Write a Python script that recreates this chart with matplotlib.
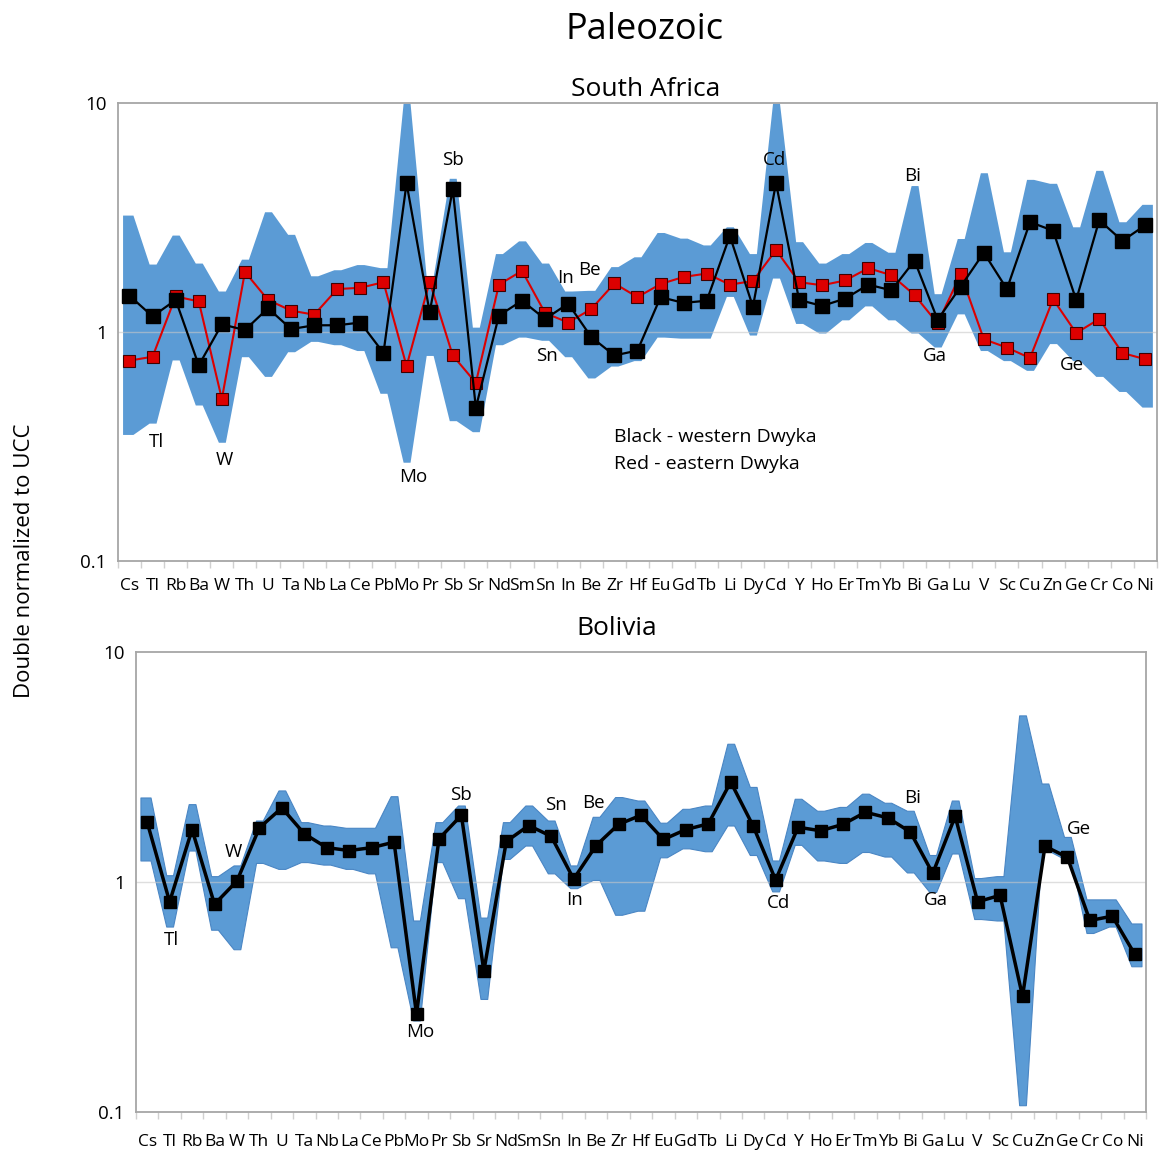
import numpy as np
import matplotlib
matplotlib.use("Agg")
import matplotlib.pyplot as plt
from matplotlib.ticker import FixedLocator, FixedFormatter, NullFormatter

plt.rcParams['font.family'] = ['Open Sans', 'DejaVu Sans']

elements = ["Cs", "Tl", "Rb", "Ba", "W", "Th", "U", "Ta", "Nb", "La", "Ce", "Pb",
            "Mo", "Pr", "Sb", "Sr", "Nd", "Sm", "Sn", "In", "Be", "Zr", "Hf", "Eu",
            "Gd", "Tb", "Li", "Dy", "Cd", "Y", "Ho", "Er", "Tm", "Yb", "Bi", "Ga",
            "Lu", "V", "Sc", "Cu", "Zn", "Ge", "Cr", "Co", "Ni"]

# South Africa - western Dwyka (black)
sa_west = [1.44, 1.17, 1.38, 0.715, 1.08, 1.02, 1.27, 1.03, 1.07, 1.07, 1.10, 0.81,
           4.46, 1.22, 4.20, 0.467, 1.18, 1.37, 1.14, 1.33, 0.95, 0.79, 0.83, 1.42,
           1.34, 1.37, 2.63, 1.29, 4.47, 1.38, 1.30, 1.40, 1.61, 1.52, 2.05, 1.13,
           1.58, 2.22, 1.54, 3.02, 2.77, 1.38, 3.08, 2.50, 2.93]
# South Africa - eastern Dwyka (red)
sa_east = [0.75, 0.78, 1.43, 1.36, 0.51, 1.83, 1.38, 1.24, 1.19, 1.54, 1.56, 1.65,
           0.71, 1.66, 0.79, 0.60, 1.61, 1.85, 1.21, 1.10, 1.26, 1.63, 1.42, 1.62,
           1.74, 1.80, 1.61, 1.67, 2.28, 1.65, 1.60, 1.68, 1.90, 1.77, 1.45, 1.09,
           1.79, 0.93, 0.855, 0.77, 1.39, 0.99, 1.14, 0.81, 0.76]
# South Africa range of all samples
sa_max = [3.24, 1.98, 2.65, 2.0, 1.51, 2.08, 3.35, 2.67, 1.76, 1.87, 1.97, 1.91,
          10.0, 1.74, 4.69, 1.05, 2.2, 2.5, 2.0, 1.51, 1.52, 1.93, 2.13, 2.72,
          2.57, 2.40, 2.88, 2.2, 10.0, 2.48, 2.0, 2.2, 2.46, 2.23, 4.36, 1.47,
          2.56, 4.96, 2.24, 4.64, 4.46, 2.88, 5.08, 3.03, 3.61]
sa_min = [0.357, 0.40, 0.755, 0.48, 0.33, 0.78, 0.64, 0.82, 0.91, 0.88, 0.83, 0.54,
          0.27, 0.79, 0.41, 0.367, 0.88, 0.95, 0.92, 0.78, 0.63, 0.71, 0.75, 0.95,
          0.94, 0.94, 1.43, 0.97, 1.72, 1.09, 0.99, 1.13, 1.30, 1.13, 0.99, 0.86,
          1.2, 0.83, 0.75, 0.68, 0.89, 0.75, 0.64, 0.55, 0.47]

# Bolivia average and range
bo_mean = [1.82, 0.82, 1.69, 0.80, 1.01, 1.72, 2.10, 1.62, 1.41, 1.37, 1.41, 1.49,
           0.266, 1.54, 1.95, 0.41, 1.50, 1.76, 1.58, 1.03, 1.44, 1.78, 1.95, 1.53,
           1.69, 1.79, 2.72, 1.75, 1.02, 1.73, 1.67, 1.78, 2.01, 1.90, 1.65, 1.09,
           1.93, 0.82, 0.875, 0.318, 1.43, 1.28, 0.68, 0.71, 0.485]
bo_max = [2.33, 1.07, 2.18, 1.06, 1.18, 1.85, 2.50, 1.82, 1.76, 1.72, 1.72, 2.36,
          0.68, 1.82, 2.15, 0.70, 1.82, 2.15, 1.85, 1.18, 1.92, 2.34, 2.26, 1.81,
          2.08, 2.15, 3.99, 2.59, 1.24, 2.30, 2.04, 2.12, 2.42, 2.21, 2.04, 1.31,
          2.26, 1.04, 1.06, 5.3, 2.68, 1.57, 0.84, 0.84, 0.66]
bo_min = [1.24, 0.64, 1.37, 0.62, 0.51, 1.21, 1.14, 1.22, 1.19, 1.14, 1.09, 0.52,
          0.25, 1.22, 0.85, 0.31, 1.26, 1.44, 1.09, 0.94, 1.02, 0.72, 0.75, 1.28,
          1.40, 1.36, 1.76, 1.31, 0.91, 1.45, 1.24, 1.21, 1.35, 1.29, 1.10, 0.905,
          1.33, 0.69, 0.68, 0.107, 1.37, 1.26, 0.60, 0.64, 0.43]

sa_labels = [("Tl", 1.15, 0.33), ("W", 4.13, 0.276), ("Mo", 12.3, 0.233),
             ("Sb", 14.0, 5.64), ("Sn", 18.1, 0.786), ("In", 18.9, 1.72),
             ("Be", 19.9, 1.87), ("Cd", 27.95, 5.64), ("Bi", 33.9, 4.8),
             ("Ga", 34.9, 0.786), ("Ge", 40.8, 0.718)]
bo_labels = [("Tl", 1.10, 0.56), ("W", 3.82, 1.35), ("Mo", 12.16, 0.223),
             ("Sb", 13.98, 2.39), ("Sn", 18.2, 2.16), ("Be", 19.87, 2.2),
             ("In", 19.06, 0.835), ("Cd", 28.15, 0.81), ("Bi", 34.1, 2.32),
             ("Ga", 35.15, 0.835), ("Ge", 41.5, 1.70)]

BAND = '#5b9bd5'
RED = '#dd0000'
SPINE = '#a6a6a6'
FS = 13.5


def band_xy(lo, hi, half=0.15, end=0.3):
    # each element gets a short flat segment, a bit wider at the two ends
    n = len(lo)
    xs, los, his = [], [], []
    for i in range(n):
        left = end if i == 0 else half
        right = end if i == n - 1 else half
        xs += [i - left, i + right]
        los += [lo[i]] * 2
        his += [hi[i]] * 2
    return xs, los, his


def setup_axis(ax, xpad, xfs):
    n = len(elements)
    ax.set_yscale('log')
    ax.set_ylim(0.1, 10)
    ax.set_xlim(-0.5, n - 0.5)
    ax.yaxis.set_major_locator(FixedLocator([0.1, 1, 10]))
    ax.yaxis.set_major_formatter(FixedFormatter(["0.1", "1", "10"]))
    ax.yaxis.set_minor_locator(FixedLocator([]))
    ax.yaxis.set_minor_formatter(NullFormatter())
    ax.tick_params(axis='y', length=0, pad=8, labelsize=FS)
    ax.set_xticks(np.arange(n))
    ax.set_xticklabels(elements)
    ax.set_xticks(np.arange(n + 1) - 0.5, minor=True)
    ax.tick_params(axis='x', which='major', length=0, pad=xpad, labelsize=xfs)
    ax.tick_params(axis='x', which='minor', length=5, color='#d0d0d0', width=1)
    for s in ax.spines.values():
        s.set_color(SPINE)
        s.set_linewidth(1.3)
    ax.axhline(1, color='#c8c8c8', lw=1, alpha=0.6, zorder=2)


fig = plt.figure(figsize=(11.62, 11.56), dpi=100)
ax1 = fig.add_axes([0.1015, 0.5147, 0.8942, 0.3962])
ax2 = fig.add_axes([0.117, 0.0381, 0.8692, 0.3979])

x = np.arange(len(elements))

# South Africa
bx, blo, bhi = band_xy(sa_min, sa_max)
ax1.fill_between(bx, blo, bhi, color=BAND, lw=0, zorder=1)
ax1.plot(x, sa_east, color=RED, lw=1.5, marker='s', ms=9, mfc=RED, mec='#400000',
         mew=0.8, zorder=3)
ax1.plot(x, sa_west, color='black', lw=1.6, marker='s', ms=9.5, mfc='black',
         mec='black', zorder=4)
setup_axis(ax1, 12, 12.5)
for name, lx, ly in sa_labels:
    ax1.text(lx, ly, name, ha='center', va='center', fontsize=FS)
ax1.text(21.0, 0.348, "Black - western Dwyka", ha='left', va='center', fontsize=14)
ax1.text(21.0, 0.265, "Red - eastern Dwyka", ha='left', va='center', fontsize=14)

# Bolivia
bx, blo, bhi = band_xy(bo_min, bo_max)
ax2.fill_between(bx, blo, bhi, color=BAND, edgecolor='#4a86c4', lw=0.8, zorder=1)
ax2.plot(x, bo_mean, color='black', lw=2.5, marker='s', ms=9, mfc='black',
         mec='black', zorder=4)
setup_axis(ax2, 16, 12.5)
for name, lx, ly in bo_labels:
    ax2.text(lx, ly, name, ha='center', va='center', fontsize=FS)

fig.text(0.555, 0.974, "Paleozoic", ha='center', va='center', fontsize=26)
fig.text(0.556, 0.923, "South Africa", ha='center', va='center', fontsize=19)
fig.text(0.531, 0.456, "Bolivia", ha='center', va='center', fontsize=19)
fig.text(0.021, 0.515, "Double normalized to UCC", ha='center', va='center',
         rotation=90, fontsize=16)

fig.savefig("out.png", dpi=100)
